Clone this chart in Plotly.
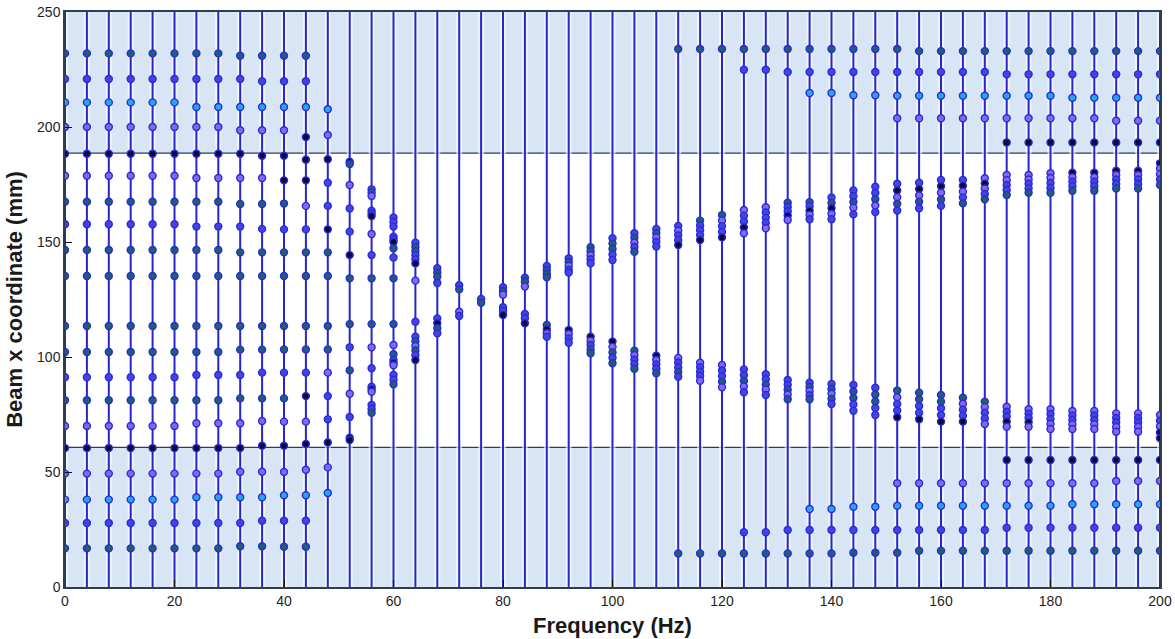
import plotly.graph_objects as go

# Excitation frequencies (Hz), one measurement line each
freqs = [0, 4, 8, 12, 16, 20, 24, 28, 32, 36, 40, 44, 48,
         52, 56, 60, 64, 68, 72, 76, 80, 84, 88, 92, 96, 100, 104, 108,
         112, 116, 120, 124, 128, 132, 136, 140, 144, 148, 152, 156, 160,
         164, 168, 172, 176, 180, 184, 188, 192, 196, 200]

# Detected positions along the beam (mm), 0-48 Hz
low_band = [
    [232.0, 220.9, 210.7, 200.0, 188.4, 178.8, 167.5, 157.7, 146.5, 135.2, 113.5, 102.2, 91.2, 81.2, 70.0, 60.4, 49.3, 38.0, 27.8, 16.8],
    [232.0, 220.9, 210.7, 200.0, 188.4, 178.8, 167.5, 157.7, 146.5, 135.2, 113.5, 102.2, 91.2, 81.2, 70.0, 60.4, 49.3, 38.0, 27.8, 16.8],
    [232.0, 220.9, 210.7, 200.0, 188.4, 178.8, 167.5, 157.7, 146.5, 135.2, 113.5, 102.2, 91.2, 81.2, 70.0, 60.4, 49.3, 38.0, 27.8, 16.8],
    [232.0, 220.9, 210.7, 200.0, 188.4, 178.8, 167.5, 157.7, 146.5, 135.2, 113.5, 102.2, 91.2, 81.2, 70.0, 60.4, 49.3, 38.0, 27.8, 16.8],
    [232.0, 220.9, 210.7, 200.0, 188.4, 178.8, 167.5, 157.7, 146.5, 135.2, 113.5, 102.2, 91.2, 81.2, 70.0, 60.4, 49.3, 38.0, 27.8, 16.8],
    [232.0, 220.9, 210.7, 200.0, 188.4, 178.8, 167.5, 157.7, 146.5, 135.2, 113.5, 102.2, 91.2, 81.2, 70.0, 60.4, 49.3, 38.0, 27.8, 16.8],
    [232.0, 220.9, 208.7, 200.0, 188.4, 177.8, 167.5, 156.7, 146.5, 135.2, 113.5, 102.2, 92.2, 81.2, 71.2, 60.4, 49.3, 39.0, 27.8, 16.8],
    [232.0, 220.9, 208.7, 200.0, 188.4, 177.8, 167.5, 156.7, 146.5, 135.2, 113.5, 102.2, 92.2, 81.2, 71.2, 60.4, 49.3, 39.0, 27.8, 16.8],
    [231.0, 220.9, 208.7, 198.6, 188.4, 177.8, 166.5, 156.7, 145.5, 135.2, 113.5, 103.2, 92.2, 82.0, 71.2, 60.4, 50.1, 39.0, 27.8, 17.7],
    [231.0, 219.9, 208.7, 198.6, 187.5, 177.8, 166.5, 155.7, 145.5, 135.2, 113.5, 103.2, 93.2, 82.0, 72.2, 61.4, 50.1, 39.0, 28.8, 17.7],
    [231.0, 219.9, 208.7, 198.6, 187.5, 176.8, 166.7, 155.5, 145.5, 135.2, 113.5, 103.3, 93.2, 82.0, 71.9, 61.4, 50.0, 39.9, 28.8, 17.5],
    [231.0, 219.9, 208.7, 195.6, 185.8, 176.8, 165.7, 155.5, 145.5, 135.2, 113.5, 103.3, 93.2, 83.0, 71.9, 62.2, 51.0, 39.9, 28.8, 17.5],
    [207.7, 196.5, 186.0, 175.8, 165.7, 155.5, 145.5, 135.2, 113.5, 103.3, 93.2, 83.0, 72.9, 62.8, 52.0, 40.9],
]

# Detected positions along the beam (mm), 52-108 Hz
mid_band = [
    [184.9, 183.9, 174.8, 164.6, 154.5, 144.3, 134.2, 114.3, 104.2, 94.2, 84.0, 73.9, 64.9, 63.9],
    [172.9, 171.5, 170.0, 163.6, 162.4, 161.3, 153.5, 144.3, 134.2, 114.3, 104.2, 95.1, 87.1, 86.0, 84.9, 79.1, 77.4, 75.8],
    [160.7, 158.7, 156.7, 152.3, 151.2, 150.0, 147.3, 143.3, 134.2, 114.3, 105.2, 101.2, 98.7, 97.5, 96.4, 92.2, 90.1, 88.1],
    [149.7, 147.9, 146.1, 144.3, 142.5, 140.7, 133.2, 115.3, 108.8, 106.8, 104.8, 102.8, 100.8, 98.7],
    [138.6, 136.7, 134.9, 132.2, 116.8, 114.7, 112.5, 110.3],
    [131.2, 129.4, 119.7, 117.8],
    [125.2, 123.6],
    [130.3, 128.7, 127.1, 121.6, 120.0, 118.3],
    [134.5, 132.7, 130.6, 118.7, 116.8, 114.7],
    [139.6, 137.8, 136.1, 134.7, 113.9, 112.0, 110.3, 108.8],
    [142.9, 141.3, 139.6, 137.8, 136.7, 111.7, 110.0, 108.1, 106.2],
    [147.7, 146.0, 144.2, 142.5, 140.7, 108.8, 107.0, 105.2, 103.3, 101.6],
    [151.6, 149.3, 147.0, 144.6, 142.2, 106.7, 104.4, 102.0, 99.7, 97.3],
    [153.8, 151.8, 149.8, 147.8, 145.8, 102.7, 100.8, 98.8, 96.9, 94.9],
    [155.7, 153.8, 151.9, 150.0, 148.0, 100.6, 98.7, 96.8, 94.9, 92.9],
]

# Detected positions along the beam (mm), 112-200 Hz
high_band = [
    [233.9, 157.0, 154.9, 152.9, 150.8, 148.7, 99.6, 97.6, 95.5, 93.5, 91.4, 14.6],
    [233.9, 159.3, 157.2, 155.1, 153.0, 150.9, 97.5, 95.6, 93.6, 91.7, 89.7, 14.6],
    [233.9, 161.7, 159.3, 156.9, 154.4, 152.0, 96.5, 94.1, 91.7, 89.2, 86.8, 14.6],
    [233.9, 224.9, 163.9, 161.4, 158.9, 156.3, 153.8, 94.6, 92.1, 89.6, 87.2, 84.7, 23.8, 14.6],
    [233.9, 224.9, 165.1, 162.8, 160.5, 158.3, 156.0, 92.5, 90.3, 88.0, 85.8, 83.5, 23.8, 14.6],
    [233.9, 223.9, 167.1, 165.2, 163.4, 161.5, 159.6, 90.0, 87.9, 85.8, 83.7, 81.6, 24.8, 14.6],
    [233.9, 223.9, 214.8, 167.3, 165.5, 163.6, 161.8, 159.9, 88.8, 87.0, 85.2, 83.4, 81.6, 33.9, 24.8, 14.6],
    [233.9, 223.9, 214.8, 169.4, 167.0, 164.7, 162.3, 159.9, 88.3, 86.1, 84.0, 81.8, 79.6, 33.9, 24.8, 14.6],
    [233.9, 223.9, 213.8, 172.4, 169.9, 167.4, 164.9, 162.0, 87.8, 85.0, 82.2, 79.4, 76.6, 34.9, 24.8, 14.9],
    [233.9, 223.9, 213.8, 174.0, 171.3, 168.6, 165.9, 163.0, 86.6, 83.7, 80.7, 77.8, 74.8, 34.9, 24.8, 14.9],
    [233.9, 223.9, 213.6, 203.8, 175.3, 172.4, 169.5, 166.6, 163.7, 85.4, 82.5, 79.6, 76.7, 73.8, 45.1, 35.3, 24.8, 14.9],
    [233.0, 223.9, 213.6, 203.8, 175.8, 173.0, 170.2, 167.5, 164.7, 84.5, 81.6, 78.7, 75.8, 72.9, 45.1, 35.3, 24.8, 15.8],
    [233.0, 223.9, 213.6, 203.8, 177.0, 174.2, 171.4, 168.5, 165.7, 83.5, 80.6, 77.7, 74.8, 71.9, 45.1, 35.3, 24.8, 15.8],
    [233.0, 223.9, 213.6, 203.8, 177.0, 174.5, 171.9, 169.4, 166.8, 82.3, 79.7, 77.1, 74.5, 71.9, 45.1, 35.3, 24.8, 15.8],
    [233.0, 223.9, 213.6, 203.8, 177.7, 175.4, 173.2, 170.9, 168.6, 80.6, 78.2, 75.8, 73.3, 70.9, 45.1, 35.3, 24.8, 15.8],
    [233.0, 222.9, 213.6, 203.8, 193.3, 179.1, 176.9, 174.8, 172.6, 170.4, 78.4, 76.2, 74.1, 71.9, 69.7, 55.2, 45.1, 35.3, 25.8, 15.8],
    [233.0, 222.9, 213.6, 203.8, 193.3, 179.1, 177.2, 175.3, 173.3, 171.4, 77.3, 75.4, 73.5, 71.6, 69.7, 55.2, 45.1, 35.3, 25.8, 15.8],
    [233.0, 222.9, 213.6, 203.8, 193.3, 179.9, 177.8, 175.7, 173.5, 171.4, 77.3, 75.2, 73.0, 70.9, 68.7, 55.2, 45.1, 35.3, 25.8, 15.8],
    [233.0, 222.9, 212.7, 203.8, 193.3, 180.1, 178.1, 176.2, 174.2, 172.3, 76.5, 74.6, 72.6, 70.7, 68.7, 55.2, 45.1, 36.0, 25.8, 15.8],
    [233.0, 222.9, 212.7, 203.8, 193.3, 180.1, 178.1, 176.2, 174.2, 172.3, 76.5, 74.6, 72.6, 70.7, 68.7, 55.2, 45.1, 36.0, 25.8, 15.8],
    [233.0, 222.9, 212.7, 202.7, 193.3, 181.0, 179.1, 177.2, 175.2, 173.3, 75.5, 73.5, 71.5, 69.5, 67.5, 55.2, 46.1, 36.0, 25.8, 15.8],
    [233.0, 222.9, 212.7, 202.7, 193.3, 181.0, 179.1, 177.2, 175.2, 173.3, 75.5, 73.5, 71.5, 69.5, 67.5, 55.2, 46.1, 36.0, 25.8, 15.8],
    [233.0, 222.9, 212.7, 202.7, 193.3, 184.2, 181.9, 179.5, 177.2, 174.8, 74.8, 72.3, 69.8, 67.2, 64.7, 55.2, 46.1, 36.0, 25.8, 15.8],
]

# Edges of the bonded patches (mm) and axis spans
patch_edges = [60.7, 188.6]
beam_span = [0, 250]
freq_span = [0, 200]
x_ticks = [0, 20, 40, 60, 80, 100, 120, 140, 160, 180, 200]
y_ticks = [0, 50, 100, 150, 200, 250]

# ---- styling -------------------------------------------------------------
FONT = "Liberation Sans, Arial, sans-serif"
LINE_BLUE = "#2626cc"
BAND_FILL = "#d7e5f4"
EDGE_DARK = "#2e3c58"
TONES = {
    "teal": "#1f5f70",
    "blue": "#4444e6",
    "cyan": "#22a8f0",
    "violet": "#8468f2",
    "dark": "#0c0c38",
}
grid_rows = [232.0, 220.9, 210.7, 200.0, 188.4, 178.8, 167.5, 157.7, 146.5, 135.2,
             113.5, 102.2, 91.2, 81.2, 70.0, 60.4, 49.3, 38.0, 27.8, 16.8]
grid_tones = ["teal", "blue", "cyan", "blue", "dark", "violet", "teal", "blue", "teal", "teal",
              "teal", "teal", "blue", "teal", "violet", "dark", "blue", "cyan", "blue", "teal"]
cluster_cycle = ["blue", "teal", "violet", "blue", "blue", "dark", "violet", "blue"]


def tone_for(y, idx):
    if y > 228:
        return "teal"
    if y > 217:
        return "blue"
    if y > 206:
        return "cyan"
    if y > 196:
        return "violet"
    if y > 184:
        return "dark"
    if y < 21:
        return "teal"
    if y < 31:
        return "blue"
    if y < 43:
        return "cyan"
    if y < 53:
        return "violet"
    if y < 65:
        return "dark"
    best = min(range(len(grid_rows)), key=lambda k: abs(grid_rows[k] - y))
    if abs(grid_rows[best] - y) < 1.2:
        return grid_tones[best]
    return cluster_cycle[idx % len(cluster_cycle)]


positions = low_band + mid_band + high_band

px, py, pc = [], [], []
for f, ys in zip(freqs, positions):
    for i, y in enumerate(ys):
        px.append(f)
        py.append(y)
        pc.append(TONES[tone_for(y, i)])

# vertical measurement lines spanning the whole beam
lx, ly = [], []
for f in freqs:
    lx += [f, f, None]
    ly += [beam_span[0], beam_span[1], None]

fig = go.Figure()

# shaded patch regions with their edges
fig.add_shape(type="rect", xref="x", yref="y", x0=freq_span[0], x1=freq_span[1],
              y0=beam_span[0], y1=patch_edges[0], fillcolor=BAND_FILL,
              line=dict(width=0), layer="below")
fig.add_shape(type="rect", xref="x", yref="y", x0=freq_span[0], x1=freq_span[1],
              y0=patch_edges[1], y1=beam_span[1], fillcolor=BAND_FILL,
              line=dict(width=0), layer="below")
for e in patch_edges:
    fig.add_shape(type="line", xref="x", yref="y", x0=freq_span[0], x1=freq_span[1],
                  y0=e, y1=e, line=dict(color=EDGE_DARK, width=1.2), layer="below")

# soft halo around each line, then the line itself
fig.add_trace(go.Scatter(x=lx, y=ly, mode="lines", hoverinfo="skip", showlegend=False,
                         line=dict(color="rgba(255,255,255,0.6)", width=6)))
fig.add_trace(go.Scatter(x=lx, y=ly, mode="lines", hoverinfo="skip", showlegend=False,
                         line=dict(color=LINE_BLUE, width=2)))

fig.add_trace(go.Scatter(
    x=px, y=py, mode="markers", showlegend=False,
    marker=dict(symbol="circle", size=7, color=pc,
                line=dict(color="#2b2bd4", width=1.4)),
))

axis_common = dict(
    showgrid=False, zeroline=False, showline=True, mirror=True,
    linecolor=EDGE_DARK, linewidth=1.5, automargin=False,
    ticks="inside", ticklen=7, tickcolor="#111111", tickwidth=1.2,
    tickfont=dict(family=FONT, size=14, color="#1e1e1e"),
)

fig.update_layout(
    width=1175, height=639,
    margin=dict(l=65, r=15, t=12, b=52),
    paper_bgcolor="white", plot_bgcolor="white",
    xaxis=dict(range=freq_span, tickvals=x_ticks,
               title=dict(text="Frequency (Hz)", standoff=10,
                          font=dict(family=FONT, size=22, color="#1a1a1a", weight="bold")),
               **axis_common),
    yaxis=dict(range=beam_span, tickvals=y_ticks,
               title=dict(text="Beam x coordinate (mm)", standoff=8,
                          font=dict(family=FONT, size=22, color="#1a1a1a", weight="bold")),
               **axis_common),
)

fig.write_html("out.html")
